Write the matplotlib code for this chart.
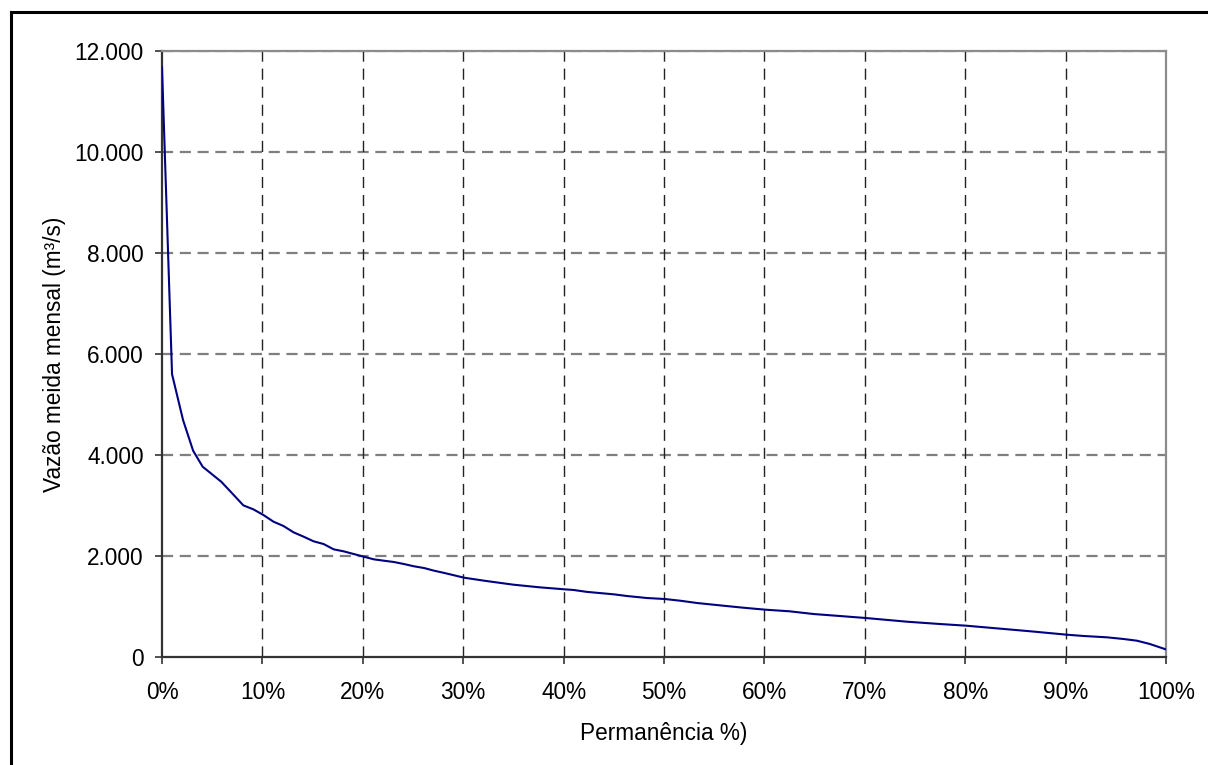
import matplotlib
matplotlib.use("Agg")
import matplotlib.pyplot as plt
from matplotlib.ticker import FuncFormatter, MultipleLocator
from matplotlib.lines import Line2D

plt.rcParams['font.family'] = ['Liberation Sans', 'DejaVu Sans']

# Permanência (%) and vazão (m³/s)
perm = [0.0, 1.0, 2.1, 3.1, 4.05, 5.9, 6.9, 8.1, 9.1, 10.1, 11.1, 12.1, 13.1, 14.1,
        15.1, 16.1, 17.1, 18.1, 19.1, 20.1, 21.1, 22.1, 23.1, 24.1, 25.1, 26.1,
        27.1, 28.1, 30.1, 32.3, 35.0, 37.6, 40.1, 41.0, 42.3, 45.0, 46.3, 48.3,
        50.1, 51.6, 53.3, 55.9, 57.9, 60.1, 62.5, 64.9, 67.5, 70.1, 74.2, 77.5,
        80.1, 83.1, 86.5, 90.1, 91.8, 94.1, 95.8, 97.1, 98.4, 100.0]
vazao = [11680, 5600, 4690, 4085, 3768, 3471, 3260, 3003, 2924, 2812, 2680, 2594,
         2469, 2383, 2291, 2237, 2132, 2092, 2039, 1986, 1934, 1907, 1881, 1841,
         1796, 1762, 1709, 1665, 1570, 1505, 1432, 1380, 1340, 1327, 1290, 1241,
         1208, 1168, 1148, 1115, 1069, 1016, 976, 937, 905, 851, 812, 772, 699,
         653, 620, 568, 509, 442, 416, 390, 356, 323, 257, 150]

x_label = "Permanência %)"
y_label = "Vazão meida mensal (m³/s)"

FS = 16.3
W, H = 1208, 765
fig = plt.figure(figsize=(W / 100, H / 100), dpi=100)
ax = fig.add_axes([162 / W, 1 - 657 / H, (1166 - 162) / W, (657 - 51) / H])

ax.plot(perm, vazao, color='#000080', lw=1.5, zorder=3)

ax.set_xlim(0, 100)
ax.set_ylim(0, 12000)
ax.xaxis.set_major_locator(MultipleLocator(10))
ax.yaxis.set_major_locator(MultipleLocator(2000))
ax.xaxis.set_major_formatter(FuncFormatter(lambda v, p: f"{int(round(v))}%"))
ax.yaxis.set_major_formatter(
    FuncFormatter(lambda v, p: "0" if v == 0 else f"{int(round(v)):,}".replace(",", ".")))

ax.tick_params(axis='both', direction='out', length=5, width=1.2, color='#333333',
               labelsize=FS)
ax.tick_params(axis='x', pad=12.5)
ax.tick_params(axis='y', pad=8.2)

for v in range(2000, 12001, 2000):
    ax.axhline(v, color='#7f7f7f', lw=1.6, dashes=(5, 3), zorder=1)
for v in range(10, 100, 10):
    ax.axvline(v, color='#222222', lw=1.0, dashes=(8, 5), zorder=1)

for s in ['left', 'bottom']:
    ax.spines[s].set_color('#333333')
    ax.spines[s].set_linewidth(1.6)
for s in ['top', 'right']:
    ax.spines[s].set_color('#8c8c8c')
    ax.spines[s].set_linewidth(1.6)

ax.set_xlabel(x_label, fontsize=FS, labelpad=13)
ax.set_ylabel(y_label, fontsize=FS, labelpad=6)

# outer chart border (left and top edges visible)
fig.add_artist(Line2D([11 / W, 11 / W], [0, 1 - 12 / H], color='black', lw=2.2,
                      transform=fig.transFigure))
fig.add_artist(Line2D([11 / W, 1], [1 - 12 / H, 1 - 12 / H], color='black', lw=2.2,
                      transform=fig.transFigure))

fig.savefig("out.png", dpi=100)
